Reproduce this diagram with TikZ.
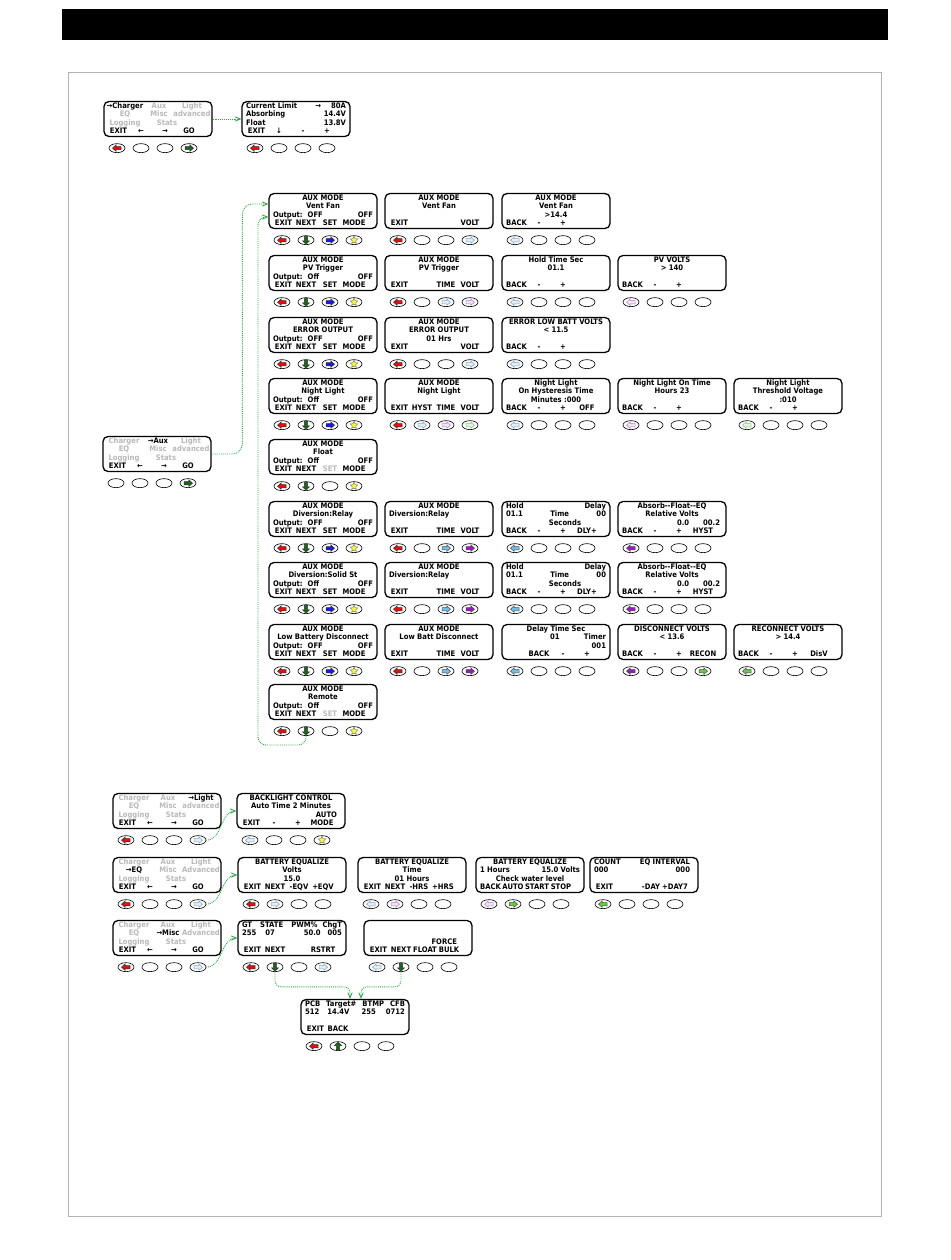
\documentclass[tikz,border=0pt]{standalone}
\usepackage{fontspec}
\setmainfont{DejaVu Sans Condensed}
\usetikzlibrary{arrows}
\usetikzlibrary{positioning}
\usetikzlibrary{shapes.geometric}
\definecolor{exitred}{rgb}{0.9, 0.05, 0.05}
\definecolor{nextgreen}{rgb}{0.1, 0.4, 0.1}
\definecolor{setblue}{rgb}{0.1, 0.1, 0.9}
\definecolor{staryel}{rgb}{1, 1, 0.25}
\definecolor{timecyan}{rgb}{0.45, 0.75, 0.92}
\definecolor{voltpurple}{rgb}{0.6, 0.1, 0.75}
\definecolor{recgreen}{rgb}{0.4, 0.8, 0.25}
\definecolor{paleblue}{rgb}{0.5, 0.65, 0.78}
\definecolor{palepurple}{rgb}{0.72, 0.5, 0.8}
\definecolor{palegreen}{rgb}{0.5, 0.78, 0.45}
\definecolor{linkgreen}{rgb}{0.2, 0.65, 0.3}
\definecolor{lcdgray}{gray}{0.72}
\tikzset{lcdbox/.style = {draw, rounded corners=5, line width=1.3, minimum width=108,
                          minimum height=35, inner sep=0,
                          font=\bfseries\fontsize{7.6}{8.2}\selectfont}}
\tikzset{btn/.style = {draw, ellipse, line width=0.6, minimum width=16, minimum height=9, inner sep=0}}
\tikzset{link/.style = {draw=linkgreen, densely dotted, line width=0.9, ->, >=angle 45}}
% text helpers for the displays
\newcommand\ctr[1]{\hss#1\hss}
\newcommand\faint[1]{\textcolor{lcdgray}{#1}}
\newcommand\sk[4]{\hbox to 21pt{\hss#1\hss}\hbox to 24pt{\hss#2\hss}\hbox to 24pt{\hss#3\hss}\hbox to 24pt{\hss#4\hss}\hfil}
\newcommand\mrow[3]{\hbox to 34pt{\hss#1\hss}\hbox to 34pt{\hss#2\hss}\hbox to 32pt{\hss#3\hss}}
\newcommand\outp[1]{Output:\hskip 5pt #1\hfil OFF}
\newcommand\auxkeys{\sk{EXIT}{NEXT}{SET}{MODE}}
\newcommand\lcdline[1]{\hbox to\hsize{\vrule height 5.8pt depth 1.7pt width 0pt #1}}
\newcommand\lcd[6]{\node[lcdbox] (#1) at (#2) {\vbox{\hsize=100pt\hbadness=10000\baselineskip=8.2pt
    \lcdline{#3}\lcdline{#4}\lcdline{#5}\lcdline{#6}}};}
\newcommand\mainmenu[4]{\lcd{#1}{#2}{#3}{#4}{\hbox to 34pt{\hss\faint{Logging}\hss}\hbox to 50pt{\hss\faint{Stats}\hss}\hfil}{\sk{EXIT}{←}{→}{GO}}}
% button icons
\newcommand\bL[2]{\filldraw[fill=#1, draw=#2, line width=0.5] (-4.5,0) -- (-0.8,-3.3) -- (-0.8,-1.6) -- (4,-1.6) -- (4,1.6) -- (-0.8,1.6) -- (-0.8,3.3) -- cycle;}
\newcommand\bR[2]{\filldraw[fill=#1, draw=#2, line width=0.5] (4.5,0) -- (0.8,-3.3) -- (0.8,-1.6) -- (-4,-1.6) -- (-4,1.6) -- (0.8,1.6) -- (0.8,3.3) -- cycle;}
\newcommand\bD[2]{\filldraw[fill=#1, draw=#2, line width=0.5] (0,4) -- (-3.6,0.6) -- (-1.6,0.6) -- (-1.6,-3.8) -- (1.6,-3.8) -- (1.6,0.6) -- (3.6,0.6) -- cycle;}
\newcommand\bU[2]{\filldraw[fill=#1, draw=#2, line width=0.5] (0,-4) -- (-3.6,-0.6) -- (-1.6,-0.6) -- (-1.6,3.8) -- (1.6,3.8) -- (1.6,-0.6) -- (3.6,-0.6) -- cycle;}
\newcommand\bStar{\node[star, star points=5, star point ratio=2.2, minimum size=8, inner sep=0,
                        fill=staryel, draw=black!60, line width=0.4] at (0,0) {};}
\newcommand\bExit{\bL{exitred}{black!80}}
\newcommand\bNext{\bD{nextgreen}{black!80}}
\newcommand\bSet{\bR{setblue}{black!80}}
\newcommand\bGo{\bR{nextgreen}{black!80}}
\newcommand\pR[1]{\bR{#1!20}{#1}}
\newcommand\pL[1]{\bL{#1!20}{#1}}
\newcommand\keypad[2]{%
  \foreach \ic [count=\i] in {#2} {
    \node[btn] (#1-b\i) at ([xshift={(\i-2.5)*24-5}, yshift=-11]#1.south) {};
    \begin{scope}[shift={(#1-b\i)}] \ic \end{scope}
  }}
\newcommand\ensmpad[1]{\keypad{#1}{{\bExit},{\bNext},{\bSet},{\bStar}}}

\begin{document}
\begin{tikzpicture}[x=1pt, y=-1pt]
    \useasboundingbox (0, 0) rectangle (950, 1260);
    \fill (62, 9) rectangle (888, 40);
    \draw [gray!60, line width=0.8] (68, 72) rectangle (881, 1216);

    % charger
    \mainmenu{chg}{158, 119}{\mrow{→Charger}{\faint{Aux}}{\faint{Light}}}{\mrow{\faint{EQ}}{\faint{Misc}}{\faint{advanced}}}
    \lcd{cl}{296, 119}{Current Limit\hfil →\hskip 10pt 80A}{Absorbing\hfil 14.4V}{Float\hfil 13.8V}{\sk{EXIT}{↓}{-}{+}}
    \keypad{chg}{{\bExit},{},{},{\bGo}}
    \keypad{cl}{{\bExit},{},{},{}}
    \draw [link] (chg.east) -- (cl.west);

    % aux
    \mainmenu{auxm}{157, 454}{\mrow{\faint{Charger}}{→Aux}{\faint{Light}}}{\mrow{\faint{EQ}}{\faint{Misc}}{\faint{advanced}}}
    \keypad{auxm}{{},{},{},{\bGo}}

    \lcd{vf1}{323, 211}{\ctr{AUX MODE}}{\ctr{Vent Fan}}{\outp{OFF}}{\auxkeys}
    \lcd{vf2}{439, 211}{\ctr{AUX MODE}}{\ctr{Vent Fan}}{}{\sk{EXIT}{}{}{VOLT}}
    \lcd{vf3}{556, 211}{\ctr{AUX MODE}}{\ctr{Vent Fan}}{\ctr{>14.4}}{\sk{BACK}{-}{+}{}}
    \ensmpad{vf1}
    \keypad{vf2}{{\bExit},{},{},{\pR{paleblue}}}
    \keypad{vf3}{{\pL{paleblue}},{},{},{}}

    \lcd{pv1}{323, 273}{\ctr{AUX MODE}}{\ctr{PV Trigger}}{\outp{Off}}{\auxkeys}
    \lcd{pv2}{439, 273}{\ctr{AUX MODE}}{\ctr{PV Trigger}}{}{\sk{EXIT}{}{TIME}{VOLT}}
    \lcd{pv3}{556, 273}{\ctr{Hold Time Sec}}{\ctr{01.1}}{}{\sk{BACK}{-}{+}{}}
    \lcd{pv4}{672, 273}{\ctr{PV VOLTS}}{\ctr{> 140}}{}{\sk{BACK}{-}{+}{}}
    \ensmpad{pv1}
    \keypad{pv2}{{\bExit},{},{\pR{paleblue}},{\pR{palepurple}}}
    \keypad{pv3}{{\pL{paleblue}},{},{},{}}
    \keypad{pv4}{{\pL{palepurple}},{},{},{}}

    \lcd{er1}{323, 335}{\ctr{AUX MODE}}{\ctr{ERROR OUTPUT}}{\outp{OFF}}{\auxkeys}
    \lcd{er2}{439, 335}{\ctr{AUX MODE}}{\ctr{ERROR OUTPUT}}{\ctr{01 Hrs}}{\sk{EXIT}{}{}{VOLT}}
    \lcd{er3}{556, 335}{\ctr{ERROR LOW BATT VOLTS}}{\ctr{< 11.5}}{}{\sk{BACK}{-}{+}{}}
    \ensmpad{er1}
    \keypad{er2}{{\bExit},{},{},{\pR{paleblue}}}
    \keypad{er3}{{\pL{paleblue}},{},{},{}}

    \lcd{nl1}{323, 396}{\ctr{AUX MODE}}{\ctr{Night Light}}{\outp{Off}}{\auxkeys}
    \lcd{nl2}{439, 396}{\ctr{AUX MODE}}{\ctr{Night Light}}{}{\sk{EXIT}{HYST}{TIME}{VOLT}}
    \lcd{nl3}{556, 396}{\ctr{Night Light}}{\ctr{On Hysteresis Time}}{\ctr{Minutes :000}}{\sk{BACK}{-}{+}{OFF}}
    \lcd{nl4}{672, 396}{\ctr{Night Light On Time}}{\ctr{Hours 23}}{}{\sk{BACK}{-}{+}{}}
    \lcd{nl5}{788, 396}{\ctr{Night Light}}{\ctr{Threshold Voltage}}{\ctr{:010}}{\sk{BACK}{-}{+}{}}
    \ensmpad{nl1}
    \keypad{nl2}{{\bExit},{\pR{paleblue}},{\pR{palepurple}},{\pR{palegreen}}}
    \keypad{nl3}{{\pL{paleblue}},{},{},{}}
    \keypad{nl4}{{\pL{palepurple}},{},{},{}}
    \keypad{nl5}{{\pL{palegreen}},{},{},{}}

    \lcd{fl1}{323, 457}{\ctr{AUX MODE}}{\ctr{Float}}{\outp{Off}}{\sk{EXIT}{NEXT}{\faint{SET}}{MODE}}
    \keypad{fl1}{{\bExit},{\bNext},{},{\bStar}}

    \lcd{dr1}{323, 519}{\ctr{AUX MODE}}{\ctr{Diversion:Relay}}{\outp{OFF}}{\auxkeys}
    \lcd{dr2}{439, 519}{\ctr{AUX MODE}}{Diversion:Relay\hfil}{}{\sk{EXIT}{}{TIME}{VOLT}}
    \lcd{dr3}{556, 519}{Hold\hfil Delay}{01.1\hfil Time\hfil 00}{\hskip 18pt\ctr{Seconds}}{\sk{BACK}{-}{+}{DLY+}}
    \lcd{dr4}{672, 519}{\ctr{Absorb{-}{-}Float{-}{-}EQ}}{\ctr{Relative Volts}}{\hfil 0.0\hskip 14pt 00.2\hskip 2pt}{\sk{BACK}{-}{+}{HYST}}
    \ensmpad{dr1}
    \keypad{dr2}{{\bExit},{},{\bR{timecyan}{black!70}},{\bR{voltpurple}{black!70}}}
    \keypad{dr3}{{\bL{timecyan}{black!70}},{},{},{}}
    \keypad{dr4}{{\bL{voltpurple}{black!70}},{},{},{}}

    \lcd{ds1}{323, 580}{\ctr{AUX MODE}}{\ctr{Diversion:Solid St}}{\outp{Off}}{\auxkeys}
    \lcd{ds2}{439, 580}{\ctr{AUX MODE}}{Diversion:Relay\hfil}{}{\sk{EXIT}{}{TIME}{VOLT}}
    \lcd{ds3}{556, 580}{Hold\hfil Delay}{01.1\hfil Time\hfil 00}{\hskip 18pt\ctr{Seconds}}{\sk{BACK}{-}{+}{DLY+}}
    \lcd{ds4}{672, 580}{\ctr{Absorb{-}{-}Float{-}{-}EQ}}{\ctr{Relative Volts}}{\hfil 0.0\hskip 14pt 00.2\hskip 2pt}{\sk{BACK}{-}{+}{HYST}}
    \ensmpad{ds1}
    \keypad{ds2}{{\bExit},{},{\bR{timecyan}{black!70}},{\bR{voltpurple}{black!70}}}
    \keypad{ds3}{{\bL{timecyan}{black!70}},{},{},{}}
    \keypad{ds4}{{\bL{voltpurple}{black!70}},{},{},{}}

    \lcd{lb1}{323, 642}{\ctr{AUX MODE}}{\ctr{Low Battery Disconnect}}{\outp{OFF}}{\auxkeys}
    \lcd{lb2}{439, 642}{\ctr{AUX MODE}}{\ctr{Low Batt Disconnect}}{}{\sk{EXIT}{}{TIME}{VOLT}}
    \lcd{lb3}{556, 642}{\ctr{Delay Time Sec}}{\hskip 44pt 01\hfil Timer}{\hfil 001}{\sk{}{BACK}{-}{+}}
    \lcd{lb4}{672, 642}{\ctr{DISCONNECT VOLTS}}{\ctr{< 13.6}}{}{\sk{BACK}{-}{+}{RECON}}
    \lcd{lb5}{788, 642}{\ctr{RECONNECT VOLTS}}{\ctr{> 14.4}}{}{\sk{BACK}{-}{+}{DisV}}
    \ensmpad{lb1}
    \keypad{lb2}{{\bExit},{},{\bR{timecyan}{black!70}},{\bR{voltpurple}{black!70}}}
    \keypad{lb3}{{\bL{timecyan}{black!70}},{},{},{}}
    \keypad{lb4}{{\bL{voltpurple}{black!70}},{},{},{\bR{recgreen}{black!70}}}
    \keypad{lb5}{{\bL{recgreen}{black!70}},{},{},{}}

    \lcd{rm1}{323, 702}{\ctr{AUX MODE}}{\ctr{Remote}}{\outp{Off}}{\sk{EXIT}{NEXT}{\faint{SET}}{MODE}}
    \keypad{rm1}{{\bExit},{\bNext},{},{\bStar}}

    \draw [link, rounded corners=10] (auxm.east) -| ([xshift=-26, yshift=7]vf1.west) -- ([yshift=7]vf1.west);
    \coordinate (loop) at (258, 745);
    \draw [link, rounded corners=8] (rm1-b2.south) |- (loop) |- ([yshift=-6]vf1.west);

    % light
    \mainmenu{lm}{167, 811}{\mrow{\faint{Charger}}{\faint{Aux}}{→Light}}{\mrow{\faint{EQ}}{\faint{Misc}}{\faint{advanced}}}
    \lcd{bl}{291, 811}{\ctr{BACKLIGHT CONTROL}}{\ctr{Auto Time 2 Minutes}}{\hfil AUTO\hskip 4pt}{\sk{EXIT}{-}{+}{MODE}}
    \keypad{lm}{{\bExit},{},{},{\pR{paleblue}}}
    \keypad{bl}{{\pL{paleblue}},{},{},{\bStar}}
    \draw [link] (lm-b4.east) to [out=0, in=180] (bl.west);

    % equalize
    \mainmenu{eqm}{167, 875}{\mrow{\faint{Charger}}{\faint{Aux}}{\faint{Light}}}{\mrow{→EQ}{\faint{Misc}}{\faint{Advanced}}}
    \lcd{be1}{292, 875}{\ctr{BATTERY EQUALIZE}}{\ctr{Volts}}{\ctr{15.0}}{\sk{EXIT}{NEXT}{-EQV}{+EQV}}
    \lcd{be2}{412, 875}{\ctr{BATTERY EQUALIZE}}{\ctr{Time}}{\ctr{01 Hours}}{\sk{EXIT}{NEXT}{-HRS}{+HRS}}
    \lcd{be3}{530, 875}{\ctr{BATTERY EQUALIZE}}{1 Hours\hfil 15.0 Volts}{\ctr{Check water level}}{\sk{BACK}{AUTO}{START}{STOP}}
    \lcd{be4}{644, 875}{COUNT\hfil EQ INTERVAL\hskip 4pt}{000\hfil 000\hskip 4pt}{}{\sk{EXIT}{}{-DAY}{+DAY7}}
    \keypad{eqm}{{\bExit},{},{},{\pR{paleblue}}}
    \keypad{be1}{{\bExit},{\pR{paleblue}},{},{}}
    \keypad{be2}{{\pL{paleblue}},{\pR{palepurple}},{},{}}
    \keypad{be3}{{\pL{palepurple}},{\bR{recgreen}{black!70}},{},{}}
    \keypad{be4}{{\bL{recgreen}{black!70}},{},{},{}}
    \draw [link] (eqm-b4.east) to [out=0, in=180] (be1.west);

    % misc
    \mainmenu{mm}{167, 938}{\mrow{\faint{Charger}}{\faint{Aux}}{\faint{Light}}}{\mrow{\faint{EQ}}{→Misc}{\faint{Advanced}}}
    \lcd{gt}{292, 938}{GT\hskip 8pt STATE\hfil PWM\%\hskip 5pt ChgT}{255\hskip 9pt 07\hfil 50.0\hskip 7pt 005}{}{\sk{EXIT}{NEXT}{}{RSTRT}}
    \lcd{fo}{418, 938}{}{}{\hfil FORCE\hskip 11pt}{\sk{EXIT}{NEXT}{FLOAT}{BULK}}
    \lcd{pcb}{355, 1017}{PCB\hskip 6pt Target\#\hfil BTMP\hskip 6pt CFB}{512\hskip 8pt 14.4V\hfil 255\hskip 10pt 0712}{}{\sk{EXIT}{BACK}{}{}}
    \keypad{mm}{{\bExit},{},{},{\pR{paleblue}}}
    \keypad{gt}{{\bExit},{\bNext},{},{\pR{paleblue}}}
    \keypad{fo}{{\pL{paleblue}},{\bNext},{},{}}
    \keypad{pcb}{{\bExit},{\bU{nextgreen}{black!80}},{},{}}
    \draw [link] (mm-b4.east) to [out=0, in=180] (gt.west);
    \draw [link, rounded corners=6] (gt-b2.south) |- ([xshift=-5, yshift=12]pcb.north) -- ([xshift=-5]pcb.north);
    \draw [link, rounded corners=6] (fo-b2.south) |- ([xshift=6, yshift=12]pcb.north) -- ([xshift=6]pcb.north);
\end{tikzpicture}
\end{document}
